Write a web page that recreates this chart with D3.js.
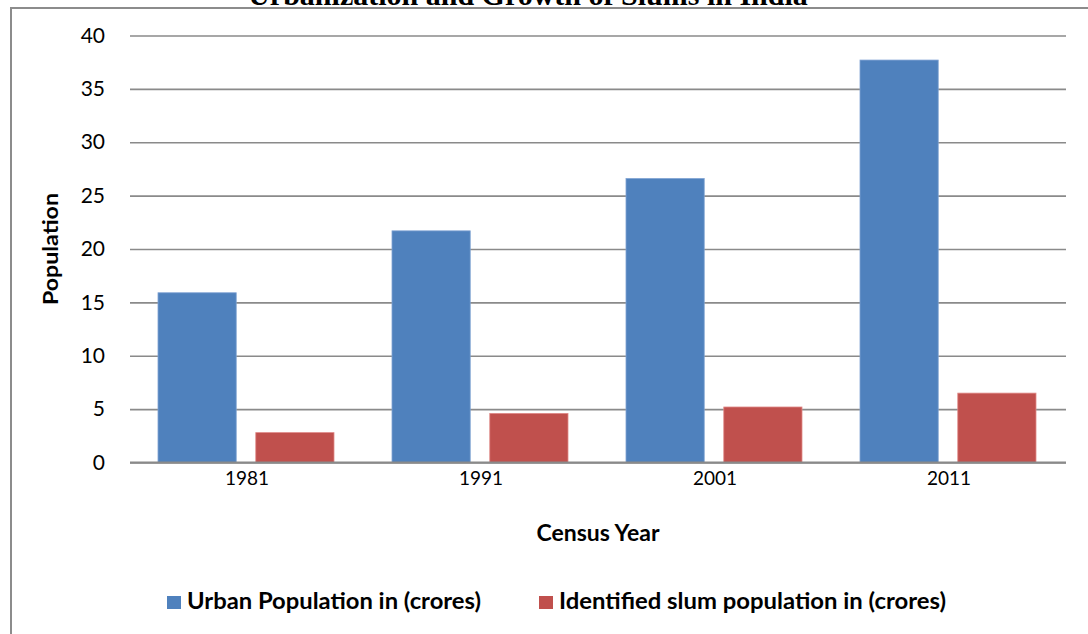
<!DOCTYPE html>
<html>
<head>
<meta charset="utf-8">
<script src="https://cdn.jsdelivr.net/npm/d3@7"></script>
<style>
  html, body { margin: 0; padding: 0; background: #fff; }
  svg { display: block; }
</style>
</head>
<body>
<svg id="chart" width="1088" height="634"></svg>
<script>
// Census data (values in crores)
const years = ["1981", "1991", "2001", "2011"];
const urbanPop = [15.9, 21.7, 26.6, 37.7];
const slumPop = [2.8, 4.6, 5.2, 6.5];
const seriesNames = ["Urban Population in (crores)", "Identified slum population in (crores)"];
const seriesColors = ["#4F81BD", "#C0504D"];
const seriesEdges = ["#7fa2d3", "#e08a88"];
const yTicks = [0, 5, 10, 15, 20, 25, 30, 35, 40];

const svg = d3.select("#chart");
const W = 1088, H = 634;
const plot = { left: 130, right: 1066, top: 35.5, bottom: 462.5 };
const font = "Lato, 'Open Sans', sans-serif";

// Chart frame
svg.append("path")
  .attr("d", `M11,${H} L11,8 L${W},8`)
  .attr("fill", "none")
  .attr("stroke", "#8c8c8c")
  .attr("stroke-width", 2);

// Title (sits above the frame edge)
svg.append("text")
  .attr("x", 528).attr("y", 5)
  .attr("text-anchor", "middle")
  .attr("font-family", "'Liberation Serif', 'Times New Roman', serif")
  .attr("font-weight", "bold")
  .attr("font-size", 30)
  .attr("fill", "#000")
  .text("Urbanization and Growth of Slums in India");

const x0 = d3.scaleBand().domain(years).range([plot.left, plot.right]).paddingInner(0).paddingOuter(0);
const seriesIdx = [0, 1];
const x1 = d3.scaleBand().domain(seriesIdx).range([28, x0.bandwidth() - 30]).paddingInner(0.2);
const y = d3.scaleLinear().domain([0, 40]).range([plot.bottom, plot.top]);

// Gridlines and y labels
const yAxis = d3.axisLeft(y).tickValues(yTicks).tickSize(-(plot.right - plot.left)).tickPadding(25);
const gy = svg.append("g").attr("transform", `translate(${plot.left},0)`).call(yAxis);
gy.select(".domain").remove();
gy.selectAll(".tick line").attr("stroke", "#8a8a8a").attr("stroke-width", 1.6);
gy.selectAll(".tick text")
  .attr("font-family", font).attr("font-size", 21).attr("fill", "#000");

// Bars
const rows = years.map((yr, i) => ({ year: yr, vals: [urbanPop[i], slumPop[i]] }));
const groups = svg.append("g").selectAll("g").data(rows).join("g")
  .attr("transform", d => `translate(${x0(d.year)},0)`);
groups.selectAll("rect").data(d => d.vals.map((v, k) => ({ k, v }))).join("rect")
  .attr("x", d => x1(d.k))
  .attr("width", x1.bandwidth())
  .attr("y", d => y(d.v))
  .attr("height", d => y(0) - y(d.v))
  .attr("fill", d => seriesColors[d.k])
  .attr("stroke", d => seriesEdges[d.k])
  .attr("stroke-width", 0.8);

// Baseline
svg.append("line")
  .attr("x1", plot.left).attr("x2", plot.right)
  .attr("y1", y(0)).attr("y2", y(0))
  .attr("stroke", "#8a8a8a").attr("stroke-width", 2);

// X axis labels
const xAxis = d3.axisBottom(x0).tickSize(0).tickPadding(9);
const gx = svg.append("g").attr("transform", `translate(0,${plot.bottom})`).call(xAxis);
gx.select(".domain").remove();
gx.selectAll(".tick text")
  .attr("font-family", font).attr("font-size", 19).attr("fill", "#000");

// Axis titles
svg.append("text")
  .attr("x", (plot.left + plot.right) / 2).attr("y", 541)
  .attr("text-anchor", "middle")
  .attr("font-family", font).attr("font-weight", "bold").attr("font-size", 22)
  .attr("textLength", 123).attr("lengthAdjust", "spacingAndGlyphs")
  .text("Census Year");

svg.append("text")
  .attr("transform", `translate(58,${(plot.top + plot.bottom) / 2}) rotate(-90)`)
  .attr("text-anchor", "middle")
  .attr("font-family", font).attr("font-weight", "bold").attr("font-size", 21)
  .attr("textLength", 112).attr("lengthAdjust", "spacingAndGlyphs")
  .text("Population");

// Legend
const legendX = [167, 539];
const legendTextW = [294, 387];
const legend = svg.append("g").selectAll("g").data(seriesNames).join("g")
  .attr("transform", (d, i) => `translate(${legendX[i]},596)`);
legend.append("rect")
  .attr("width", 14).attr("height", 13)
  .attr("fill", (d, i) => seriesColors[i]);
legend.append("text")
  .attr("x", 20).attr("y", 13)
  .attr("font-family", font).attr("font-weight", "bold").attr("font-size", 22)
  .attr("textLength", (d, i) => legendTextW[i]).attr("lengthAdjust", "spacingAndGlyphs")
  .text(d => d);
</script>
</body>
</html>
